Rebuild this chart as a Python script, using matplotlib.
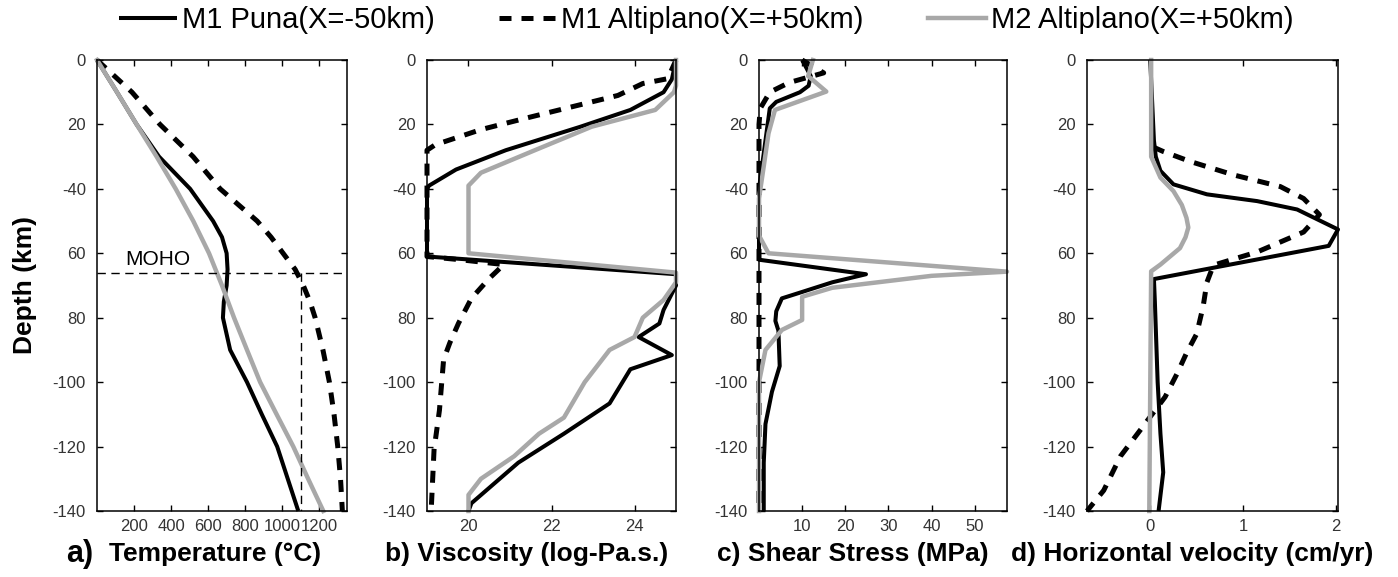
import matplotlib.pyplot as plt
from matplotlib.lines import Line2D

plt.rcParams['font.family'] = ['Liberation Sans', 'DejaVu Sans']

# ---- a) temperature ----
temp_depth = [0, -10, -20, -30, -40, -50, -55, -60, -65, -70, -75, -80, -90, -100, -110, -120, -130, -140]
temp_m1_puna = [0, 108, 214, 335, 503, 627, 675, 700, 705, 700, 685, 680, 719, 810, 890, 973, 1030, 1087]
temp_m1_alti = [0, 189, 340, 519, 665, 865, 940, 1005, 1070, 1114, 1150, 1178, 1220, 1255, 1280, 1300, 1315, 1325]
temp_m2_depth = [0, -10, -20, -30, -40, -50, -60, -70, -80, -90, -100, -110, -120, -130, -140]
temp_m2_alti = [0, 108, 214, 322, 425, 520, 605, 675, 740, 810, 881, 970, 1060, 1140, 1222]
moho_depth = -66
moho_temp = 1100

# ---- b) viscosity ----
visc_puna_depth = [0, -6, -10, -15.5, -20.7, -28, -34, -39, -40, -61, -66.5, -70, -77.6, -81.8, -86, -91.6,
                   -96, -106.6, -116, -125, -137.6, -140]
visc_puna = [25, 24.9, 24.7, 23.9, 22.7, 20.9, 19.7, 19.05, 19, 19, 25, 25, 24.7, 24.6, 24.1, 24.9,
             23.9, 23.4, 22.3, 21.2, 20.07, 20.0]
visc_alti_depth = [0, -5.8, -7.3, -11, -14.5, -18, -21.6, -26.3, -28, -61, -62, -63.5, -67.8, -74, -81.7,
                   -87.8, -93, -108.7, -121, -140]
visc_alti = [25, 24.8, 24.2, 23.6, 22.5, 21.4, 20.3, 19.2, 19.0, 19.0, 19.8, 20.85, 20.5, 20.07, 19.76,
             19.55, 19.4, 19.3, 19.17, 19.1]
visc_m2_depth = [0, -8, -10, -15.5, -20.7, -28, -35, -39, -60, -66, -69, -74.5, -80, -86, -90, -100, -111,
                 -116, -123, -130, -135, -140]
visc_m2 = [25, 25, 24.95, 24.5, 22.97, 21.6, 20.3, 20.0, 20.0, 25, 25, 24.7, 24.2, 24.0, 23.4, 22.8, 22.3,
           21.7, 21.1, 20.3, 20.0, 20.0]

# ---- c) shear stress ----
shear_puna_depth = [0, -5, -8, -10, -13, -15, -20, -30, -40, -62, -66.5, -69, -72, -74, -78, -81, -84,
                    -95, -103, -113, -125, -140]
shear_puna = [10, 12, 11.5, 9.5, 4, 2.5, 2, 1, 0, 0, 24.8, 17, 10, 5.3, 4, 3.8, 4.5, 4.8, 3, 1.5, 1.1, 1.1]
shear_alti_depth = [0, -4, -7, -10, -15, -20, -140]
shear_alti = [10, 15, 7, 2.5, 0.3, 0, 0]
shear_m2_depth = [0, -5, -9.8, -15.5, -22.8, -33, -43, -54.5, -60, -65.7, -67, -70.7, -73.5, -80.7, -83.8,
                  -90, -100, -140]
shear_m2 = [12.5, 11.4, 15.6, 3.7, 2.2, 1.1, 0, 0, 2.2, 57.5, 40, 17, 10, 10, 5.3, 1.5, 0, 0]

# ---- d) horizontal velocity ----
vel_puna_depth = [0, -25, -30, -34.4, -38.6, -41.7, -43.8, -46.4, -52.6, -57.7, -62.9, -68, -75, -100,
                  -116, -128, -140]
vel_puna = [0.0, 0.04, 0.06, 0.11, 0.25, 0.61, 1.15, 1.58, 2.02, 1.92, 0.97, 0.04, 0.05, 0.08, 0.11, 0.14, 0.09]
vel_alti_depth = [-27, -28.4, -31.5, -35.7, -39.3, -43, -48, -53.4, -59.6, -63.7, -69, -76.4, -85, -91,
                  -97.3, -104.6, -115, -123, -133.6, -140]
vel_alti = [0.03, 0.14, 0.43, 0.9, 1.4, 1.65, 1.82, 1.65, 1.15, 0.68, 0.61, 0.57, 0.5, 0.39, 0.29,
            0.16, -0.11, -0.32, -0.5, -0.68]
vel_m2_depth = [0, -30, -36.5, -40.7, -45, -49, -52, -55, -58.4, -63.5, -65.6, -140]
vel_m2 = [0.01, 0.01, 0.11, 0.25, 0.34, 0.39, 0.41, 0.38, 0.32, 0.11, 0.01, -0.01]

depth_ticks = [0, -20, -40, -60, -80, -100, -120, -140]
depth_ticklabels = ['0', '20', '-40', '60', '80', '-100', '-120', '-140']

solid = dict(color='black', lw=2.9, solid_capstyle='butt', clip_on=False)
dashed = dict(color='black', lw=3.6, dashes=(2.4, 2.0), clip_on=False)
gray = dict(color='#a8a8a8', lw=3.2, clip_on=False)

fig = plt.figure(figsize=(13.98, 5.77), dpi=100)
W, H = 1398.0, 577.0
bottom, height = (H - 511) / H, 451 / H
lefts = [97, 427, 759, 1087]
widths = [250, 249, 248, 251]
axes = [fig.add_axes([l / W, bottom, w / W, height]) for l, w in zip(lefts, widths)]

panels = [
    (temp_depth, temp_m1_puna, temp_depth, temp_m1_alti, temp_m2_depth, temp_m2_alti),
    (visc_puna_depth, visc_puna, visc_alti_depth, visc_alti, visc_m2_depth, visc_m2),
    (shear_puna_depth, shear_puna, shear_alti_depth, shear_alti, shear_m2_depth, shear_m2),
    (vel_puna_depth, vel_puna, vel_alti_depth, vel_alti, vel_m2_depth, vel_m2),
]
for ax, (d1, v1, d2, v2, d3, v3) in zip(axes, panels):
    ax.plot(v1, d1, **solid)
    ax.plot(v2, d2, **dashed)
    ax.plot(v3, d3, **gray)
    ax.set_ylim(-140, 0)
    ax.set_yticks(depth_ticks)
    ax.set_yticklabels(depth_ticklabels)
    ax.tick_params(direction='in', top=True, right=True, length=4, width=1,
                   labelsize=12, labelcolor='#333333')
    ax.tick_params(axis='y', pad=8)
    ax.tick_params(axis='x', pad=6)
    for s in ax.spines.values():
        s.set_linewidth(1.1)

ax = axes[0]
ax.set_xlim(0, 1350)
ax.set_xticks([200, 400, 600, 800, 1000, 1200])
ax.axhline(moho_depth, color='black', lw=1, dashes=(6, 4))
ax.plot([moho_temp, moho_temp], [moho_depth, -140], color='black', lw=1, dashes=(6, 4))
ax.text(151, -62, 'MOHO', fontsize=15, va='center', ha='left')

axes[1].set_xlim(19, 25)
axes[1].set_xticks([20, 22, 24])
axes[2].set_xlim(0, 57.5)
axes[2].set_xticks([10, 20, 30, 40, 50])
axes[3].set_xlim(-0.68, 2.02)
axes[3].set_xticks([0, 1, 2])

handles = [Line2D([], [], **solid), Line2D([], [], **dashed), Line2D([], [], **gray)]
labels = ['M1 Puna(X=-50km)', 'M1 Altiplano(X=+50km)', 'M2 Altiplano(X=+50km)']
fig.legend(handles, labels, loc='upper center', bbox_to_anchor=(0.505, 1.035), ncol=3,
           frameon=False, fontsize=21, handlelength=2.0, handletextpad=0.15, columnspacing=2.2)

ylab = 0.04
fig.text(80 / W, ylab, 'a)', fontsize=22, fontweight='bold', ha='center', va='center')
fig.text(215 / W, ylab, 'Temperature (°C)', fontsize=19, fontweight='bold', ha='center', va='center')
fig.text(527 / W, ylab, 'b) Viscosity (log-Pa.s.)', fontsize=19, fontweight='bold', ha='center', va='center')
fig.text(853 / W, ylab, 'c) Shear Stress (MPa)', fontsize=19, fontweight='bold', ha='center', va='center')
fig.text(1192 / W, ylab, 'd) Horizontal velocity (cm/yr)', fontsize=19, fontweight='bold',
         ha='center', va='center')
fig.text(25 / W, 0.506, 'Depth (km)', fontsize=19, fontweight='bold', rotation=90, ha='center', va='center')

fig.savefig('out.png', dpi=100)
